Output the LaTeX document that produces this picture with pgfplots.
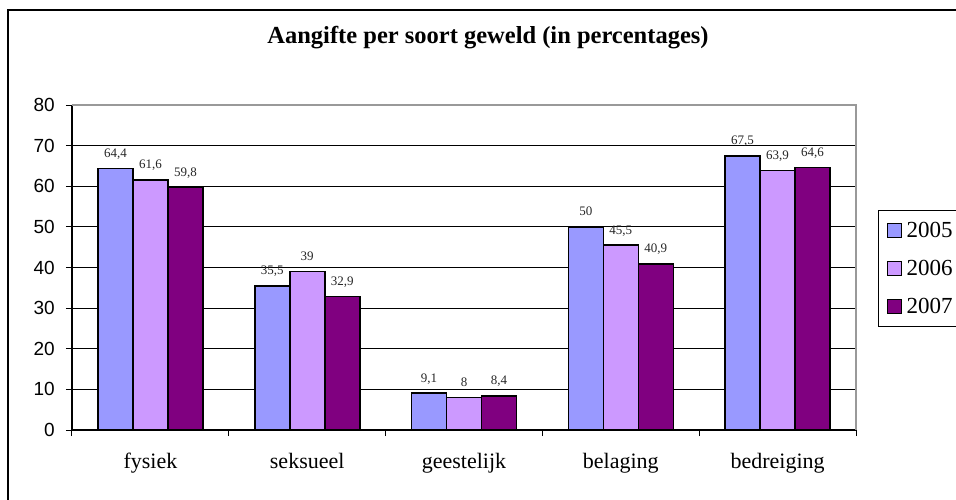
\documentclass[border=0pt]{standalone}
\usepackage{pgfplots}
\pgfplotsset{compat=1.18}
\usepackage{fontspec}
\setmainfont{Liberation Serif}
\newfontfamily\arial{Liberation Sans}
\newfontfamily\timesf{Liberation Serif}
\definecolor{c05}{HTML}{9999FF}
\definecolor{c06}{HTML}{CC99FF}
\definecolor{c07}{HTML}{800080}
\newcommand{\legtxt}[1]{{\timesf\fontsize{23}{26}\selectfont #1}}
\begin{document}
\begin{tikzpicture}[x=1pt,y=1pt]
\useasboundingbox (0,0) rectangle (956,499);
\draw[line width=1.3pt] (8,-10) -- (8,489) -- (970,489);
\node[font=\timesf\fontsize{24.5}{27}\selectfont\bfseries] at (488,461) {Aangifte per soort geweld (in percentages)};
\begin{axis}[
  at={(72pt,69pt)}, anchor=south west,
  scale only axis, width=784pt, height=325pt,
  ymin=0, ymax=80, ytick={0,10,...,80},
  xmin=-0.5, xmax=4.5,
  xtick={-0.5,0.5,...,4.5},
  x tick label as interval,
  xticklabels={fysiek,seksueel,geestelijk,belaging,bedreiging},
  axis x line*=bottom, axis y line*=left,
  axis line style={line width=1.3pt, black},
  tick align=outside, major tick length=6pt,
  tick style={black, line width=1pt},
  ymajorgrids, grid style={black, line width=0.8pt},
  /pgf/number format/assume math mode=true,
  /pgf/number format/use comma,
  yticklabel style={font=\arial\fontsize{19}{22}\selectfont, inner sep=0pt, xshift=-11pt},
  xticklabel style={font=\timesf\fontsize{22}{26}\selectfont, inner sep=0pt, yshift=-17pt},
  ybar=0pt, bar width=35pt,
  nodes near coords,
  nodes near coords style={font=\timesf\fontsize{13}{15}\selectfont, inner sep=0pt, anchor=base, yshift=11pt, text=black!85},
  clip=false,
  legend style={at={(1.0281,0.6769)}, anchor=north west, draw=black, line width=1pt,
    font=\timesf\fontsize{23}{26}\selectfont, nodes={inner sep=0pt}, inner xsep=8pt, inner ysep=12pt,
    column sep=5pt, row sep=21pt},
  legend image code/.code={\draw[#1, line width=1pt] (0pt,-7pt) rectangle (14pt,7pt);},
]
\addplot[fill=c05, draw=black, line width=1.6pt] coordinates {(0,64.4) (1,35.5) (2,9.1) (3,50) (4,67.5)};
\addplot[fill=c06, draw=black, line width=1.6pt] coordinates {(0,61.6) (1,39) (2,8) (3,45.5) (4,63.9)};
\addplot[fill=c07, draw=black, line width=1.6pt] coordinates {(0,59.8) (1,32.9) (2,8.4) (3,40.9) (4,64.6)};
\legend{\legtxt{2005},\legtxt{2006},\legtxt{2007}}
\draw[gray!80, line width=1.3pt] (rel axis cs:0,1) -- (rel axis cs:1,1) -- (rel axis cs:1,0);
\end{axis}
\end{tikzpicture}
\end{document}
